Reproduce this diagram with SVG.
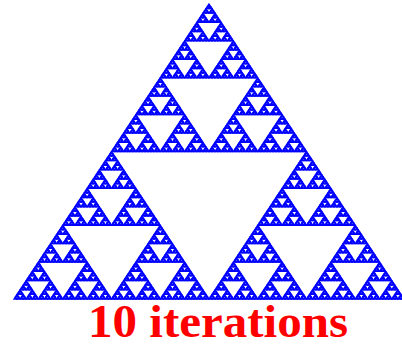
<svg xmlns="http://www.w3.org/2000/svg" width="402" height="346" viewBox="0 0 402 346">
<style>
.tri{fill:#0000ff;stroke:#0000ff;stroke-width:1.3;stroke-linejoin:miter;vector-effect:non-scaling-stroke}
.label{font-family:"Liberation Serif","Times New Roman",serif;font-weight:bold;font-size:46px;fill:#ff0000}
</style>
<defs>
<path id="t0" class="tri" d="M.5 0L1 1H0z"/>
<g id="t1"><use href="#t0" transform="translate(.25 0) scale(.5)"/><use href="#t0" transform="translate(0 .5) scale(.5)"/><use href="#t0" transform="translate(.5 .5) scale(.5)"/></g>
<g id="t2"><use href="#t1" transform="translate(.25 0) scale(.5)"/><use href="#t1" transform="translate(0 .5) scale(.5)"/><use href="#t1" transform="translate(.5 .5) scale(.5)"/></g>
<g id="t3"><use href="#t2" transform="translate(.25 0) scale(.5)"/><use href="#t2" transform="translate(0 .5) scale(.5)"/><use href="#t2" transform="translate(.5 .5) scale(.5)"/></g>
<g id="t4"><use href="#t3" transform="translate(.25 0) scale(.5)"/><use href="#t3" transform="translate(0 .5) scale(.5)"/><use href="#t3" transform="translate(.5 .5) scale(.5)"/></g>
<g id="t5"><use href="#t4" transform="translate(.25 0) scale(.5)"/><use href="#t4" transform="translate(0 .5) scale(.5)"/><use href="#t4" transform="translate(.5 .5) scale(.5)"/></g>
<g id="t6"><use href="#t5" transform="translate(.25 0) scale(.5)"/><use href="#t5" transform="translate(0 .5) scale(.5)"/><use href="#t5" transform="translate(.5 .5) scale(.5)"/></g>
<g id="t7"><use href="#t6" transform="translate(.25 0) scale(.5)"/><use href="#t6" transform="translate(0 .5) scale(.5)"/><use href="#t6" transform="translate(.5 .5) scale(.5)"/></g>
</defs>
<g id="sierpinski" transform="matrix(390 0 0 295 14 4)">
<use href="#t7"/>
</g>
<text id="caption" class="label" x="218" y="337" text-anchor="middle" textLength="260" lengthAdjust="spacingAndGlyphs">10 iterations</text>
</svg>
